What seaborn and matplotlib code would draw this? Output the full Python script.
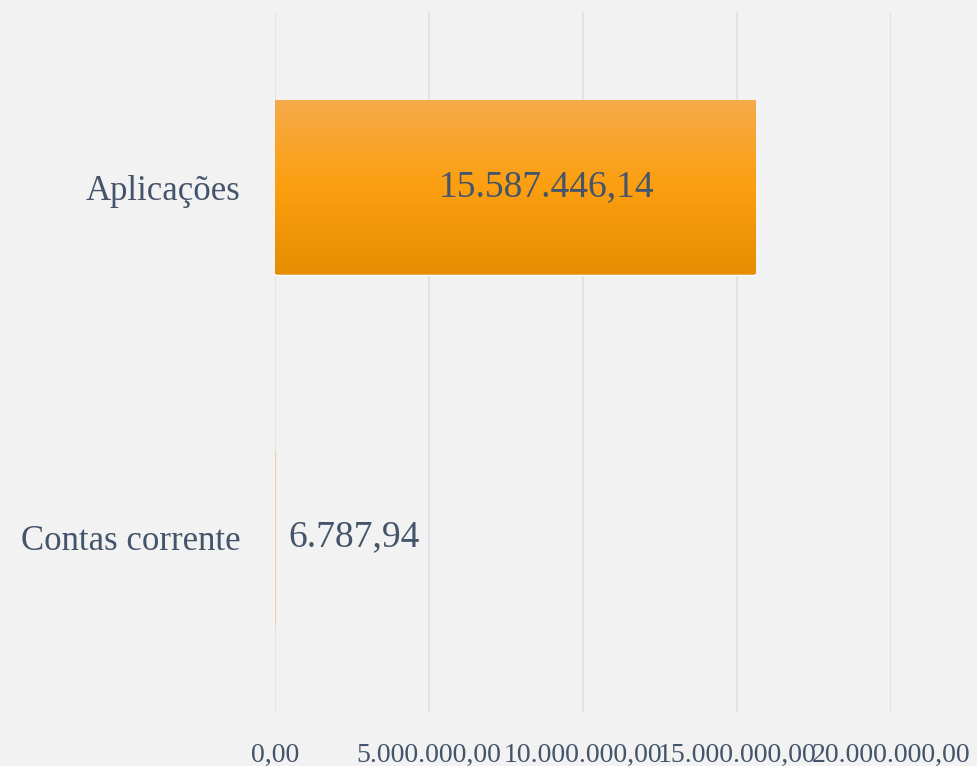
import numpy as np
import pandas as pd
import matplotlib
matplotlib.use("Agg")
import matplotlib.pyplot as plt
import seaborn as sns
from matplotlib.colors import LinearSegmentedColormap

# dados
categorias = ["Aplicações", "Contas corrente"]
valores = [15587446.14, 6787.94]
rotulos = ["15.587.446,14", "6.787,94"]
ticks_x = [0, 5000000, 10000000, 15000000, 20000000]
ticks_txt = ["0,00", "5.000.000,00", "10.000.000,00", "15.000.000,00", "20.000.000,00"]

df = pd.DataFrame({"categoria": categorias, "valor": valores})

sns.set_style("white")
plt.rcParams["font.family"] = ["Liberation Serif", "DejaVu Serif"]

cor_texto = "#44546a"
fundo = "#f2f2f2"

fig = plt.figure(figsize=(9.77, 7.66), dpi=100, facecolor=fundo)
ax = fig.add_axes([275 / 977, 54 / 766, 616 / 977, 700 / 766])
ax.set_facecolor(fundo)

sns.barplot(data=df, x="valor", y="categoria", orient="h", width=0.5,
            color="#fb9d0e", ax=ax, zorder=3)

ax.set_xlim(0, 20000000)
ax.set_ylim(1.5, -0.5)

# gradiente nas barras
grad = LinearSegmentedColormap.from_list("lar", ["#f5aa4a", "#fc9f10", "#e58c00"])
g = np.linspace(0, 1, 256).reshape(-1, 1)
for p in ax.patches:
    x0, y0 = p.get_x(), p.get_y()
    w, h = p.get_width(), p.get_height()
    if w < 1e5:
        p.set_facecolor("#e8d4b0")
        p.set_edgecolor("#e8d4b0")
        p.set_linewidth(1)
        continue
    im = ax.imshow(g, cmap=grad, aspect="auto", origin="upper",
                   extent=[x0, x0 + w, y0 + h, y0], zorder=3.5)
    im.set_clip_path(p)
ax.set_xlim(0, 20000000)
ax.set_ylim(1.5, -0.5)

# rótulos de dados
ax.annotate(rotulos[0], xy=(valores[0] / 2, 0), xytext=(32, 0),
            textcoords="offset pixels", ha="center", va="center",
            fontsize=27, color=cor_texto, zorder=5)
ax.annotate(rotulos[1], xy=(valores[1], 1), xytext=(13, 0),
            textcoords="offset pixels", ha="left", va="center",
            fontsize=27, color=cor_texto, zorder=5)

ax.set_xticks(ticks_x)
ax.set_xticklabels(ticks_txt)
ax.tick_params(axis="x", length=0, pad=22, labelsize=20, labelcolor=cor_texto)
ax.tick_params(axis="y", length=0, pad=25, labelsize=25, labelcolor=cor_texto)
ax.set_xlabel("")
ax.set_ylabel("")

ax.grid(axis="x", color="#dfe2e6", linewidth=1.5, zorder=0)
ax.grid(axis="y", visible=False)
ax.set_axisbelow(True)
for s in ax.spines.values():
    s.set_visible(False)

fig.savefig("out.png", dpi=100, facecolor=fundo)
